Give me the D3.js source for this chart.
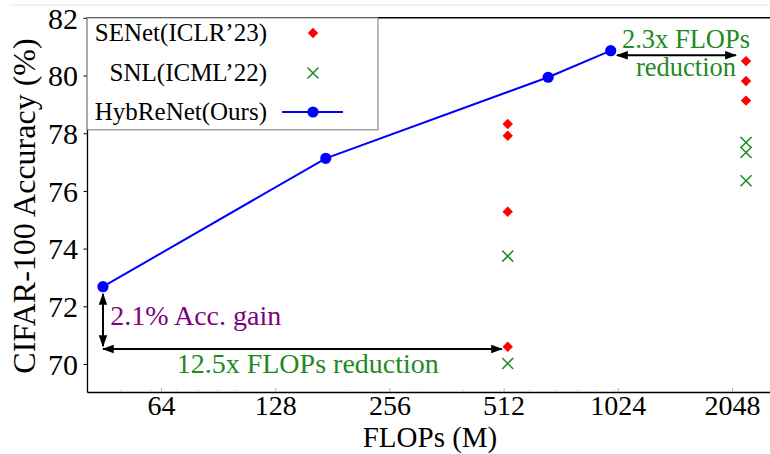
<!DOCTYPE html>
<html>
<head>
<meta charset="utf-8">
<script src="https://cdn.jsdelivr.net/npm/d3@7"></script>
<style>
  html, body { margin: 0; padding: 0; background: #fff; }
  svg { display: block; font-family: "Liberation Serif", "Times New Roman", serif; }
</style>
</head>
<body>
<svg id="chart" width="770" height="454"></svg>
<script>
// ---------- data ----------
const hybFlops = [45, 174, 671, 981];
const hybAcc   = [72.68, 77.13, 79.94, 80.86];

const senetFlops = [525, 525, 525, 525, 2230, 2230, 2230];
const senetAcc   = [78.32, 77.91, 75.28, 70.60, 80.50, 79.81, 79.13];

const snlFlops = [525, 525, 2230, 2230, 2230];
const snlAcc   = [73.74, 70.02, 77.68, 77.33, 76.35];

const xTicks = [64, 128, 256, 512, 1024, 2048];
const yTicks = [70, 72, 74, 76, 78, 80, 82];
const xMinorTicks = [50, 60, 70, 80, 90, 100, 200, 300, 400, 500, 600, 700, 800, 900, 1000, 2000];

const legendLabels = ["SENet(ICLR\u201923)", "SNL(ICML\u201922)", "HybReNet(Ours)"];

// annotations in data coordinates
const accArrow  = { x1: 45, y1: 72.43, x2: 45, y2: 70.62 };
const flopArrow = { x1: 45, y1: 70.52, x2: 507, y2: 70.52 };
const flop2Arrow = { x1: 1019, y1: 80.70, x2: 2097, y2: 80.70 };
const accText   = { x: 47, y: 71.35, text: "2.1% Acc. gain" };
const flopText  = { x: 70.4, y: 69.69, text: "12.5x FLOPs reduction" };
const flop2Text = [{ x: 1549, y: 80.97, text: "2.3x FLOPs" }, { x: 1549, y: 79.99, text: "reduction" }];

// ---------- layout ----------
const svg = d3.select("#chart");
const pLeft = 87, pRight = 776, pTop = 17.8, pBottom = 392;

const x = d3.scaleLog().base(2).domain([64, 2048]).range([161, 732]);
x.domain([x.invert(pLeft), x.invert(pRight)]).range([pLeft, pRight]);
const y = d3.scaleLinear().domain([69.03, 82]).range([pBottom, pTop]);

const RED = "#ff0000", GREEN = "#1f8a1f", BLUE = "#0000ff", PURPLE = "#800080";

// faint screenshot line
svg.append("line").attr("x1", 10).attr("x2", 770).attr("y1", 5).attr("y2", 5)
  .attr("stroke", "#e4e4e4").attr("stroke-width", 1);

// ---------- axes ----------
const xAxis = d3.axisBottom(x).tickValues(xTicks).tickFormat(d3.format("d")).tickSizeInner(-4).tickSizeOuter(0).tickPadding(10);
const gx = svg.append("g").attr("transform", `translate(0,${pBottom})`).call(xAxis);
gx.select(".domain").attr("stroke", "#000").attr("stroke-width", 1.5);
gx.selectAll(".tick line").attr("stroke", "#999").attr("stroke-width", 0.8);
gx.selectAll(".tick text").attr("font-size", 28).attr("fill", "#000")
  .attr("font-family", "Liberation Serif, serif").attr("dy", null).attr("y", 23);

const gxm = svg.append("g").attr("transform", `translate(0,${pBottom})`)
  .call(d3.axisBottom(x).tickValues(xMinorTicks).tickFormat("").tickSizeInner(-2.5).tickSizeOuter(0));
gxm.select(".domain").remove();
gxm.selectAll(".tick line").attr("stroke", "#bbb").attr("stroke-width", 0.6);

const yAxis = d3.axisLeft(y).tickValues(yTicks).tickFormat(d3.format("d")).tickSizeInner(3.5).tickSizeOuter(0).tickPadding(6);
const gy = svg.append("g").attr("transform", `translate(${pLeft},0)`).call(yAxis);
gy.select(".domain").attr("stroke", "#000").attr("stroke-width", 1.3);
gy.selectAll(".tick line").attr("stroke", "#000").attr("stroke-width", 1);
gy.selectAll(".tick text").attr("font-size", 30).attr("fill", "#000")
  .attr("font-family", "Liberation Serif, serif").attr("dy", "0.34em").attr("x", -9);

// top spine
svg.append("line").attr("x1", pLeft).attr("x2", 770).attr("y1", pTop).attr("y2", pTop)
  .attr("stroke", "#000").attr("stroke-width", 1.6);

// axis labels
svg.append("text").attr("x", 430).attr("y", 447).attr("text-anchor", "middle")
  .attr("font-size", 29).attr("fill", "#000").text("FLOPs (M)");
svg.append("text").attr("transform", "translate(35,206) rotate(-90)").attr("text-anchor", "middle")
  .attr("font-size", 32).attr("fill", "#000").text("CIFAR-100 Accuracy (%)");

// ---------- marks ----------
const DS = 5.2;
const diamondPath = `M0,${-DS}L${DS},0L0,${DS}L${-DS},0Z`;
const XS = 5.5;
const xPath = `M${-XS},${-XS}L${XS},${XS}M${-XS},${XS}L${XS},${-XS}`;

const line = d3.line().x(d => x(d[0])).y(d => y(d[1]));
const hyb = hybFlops.map((f, i) => [f, hybAcc[i]]);
svg.append("path").datum(hyb).attr("d", line).attr("fill", "none")
  .attr("stroke", BLUE).attr("stroke-width", 2);
svg.selectAll(".hyb").data(hyb).enter().append("circle")
  .attr("cx", d => x(d[0])).attr("cy", d => y(d[1])).attr("r", 5.6).attr("fill", BLUE);

svg.selectAll(".sen").data(senetFlops.map((f, i) => [f, senetAcc[i]])).enter().append("path")
  .attr("d", diamondPath).attr("transform", d => `translate(${x(d[0])},${y(d[1])})`).attr("fill", RED);

svg.selectAll(".snl").data(snlFlops.map((f, i) => [f, snlAcc[i]])).enter().append("path")
  .attr("d", xPath).attr("transform", d => `translate(${x(d[0])},${y(d[1])})`)
  .attr("stroke", GREEN).attr("stroke-width", 1.5).attr("fill", "none");

// ---------- annotations ----------
const defs = svg.append("defs");
defs.append("marker").attr("id", "ah").attr("viewBox", "0 0 10 10").attr("refX", 9).attr("refY", 5)
  .attr("markerWidth", 6).attr("markerHeight", 6).attr("orient", "auto-start-reverse")
  .append("path").attr("d", "M0,1.5L10,5L0,8.5Z").attr("fill", "#000");
function arrow(a) {
  svg.append("line").attr("x1", x(a.x1)).attr("y1", y(a.y1)).attr("x2", x(a.x2)).attr("y2", y(a.y2))
    .attr("stroke", "#000").attr("stroke-width", 2)
    .attr("marker-start", "url(#ah)").attr("marker-end", "url(#ah)");
}
arrow(accArrow); arrow(flopArrow); arrow(flop2Arrow);

svg.append("text").attr("x", x(accText.x)).attr("y", y(accText.y)).attr("font-size", 28)
  .attr("fill", PURPLE).text(accText.text);
svg.append("text").attr("x", x(flopText.x)).attr("y", y(flopText.y)).attr("font-size", 28)
  .attr("fill", GREEN).text(flopText.text);
flop2Text.forEach(t => {
  svg.append("text").attr("x", x(t.x)).attr("y", y(t.y)).attr("font-size", 26.5).attr("text-anchor", "middle")
    .attr("fill", GREEN).text(t.text);
});

// ---------- legend ----------
const lg = svg.append("g");
lg.append("rect").attr("x", pLeft).attr("y", pTop).attr("width", 291).attr("height", 112)
  .attr("fill", "#fff").attr("fill-opacity", 0.9).attr("stroke", "#777").attr("stroke-width", 1);
const rowY = [33, 73, 112];
legendLabels.forEach((lab, i) => {
  lg.append("text").attr("x", 267).attr("y", rowY[i]).attr("dy", "0.33em").attr("text-anchor", "end")
    .attr("font-size", 25).attr("fill", "#000").text(lab);
});
lg.append("path").attr("d", diamondPath).attr("transform", `translate(313,${rowY[0]})`).attr("fill", RED);
lg.append("path").attr("d", xPath).attr("transform", `translate(313,${rowY[1]})`)
  .attr("stroke", GREEN).attr("stroke-width", 1.5).attr("fill", "none");
lg.append("line").attr("x1", 282).attr("x2", 343).attr("y1", rowY[2]).attr("y2", rowY[2])
  .attr("stroke", BLUE).attr("stroke-width", 2);
lg.append("circle").attr("cx", 313).attr("cy", rowY[2]).attr("r", 5.6).attr("fill", BLUE);
</script>
</body>
</html>
